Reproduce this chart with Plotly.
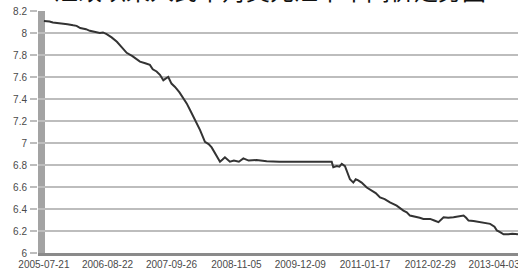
import plotly.graph_objects as go

title_text = "汇改以来人民币对美元汇率中间价走势图"

dates = [
    "2005-07-21", "2005-08-25", "2005-09-15", "2005-10-20", "2005-11-10", "2005-12-15",
    "2006-01-20", "2006-02-10", "2006-03-05", "2006-04-10", "2006-05-04", "2006-05-25",
    "2006-06-10", "2006-07-05", "2006-07-25", "2006-08-17", "2006-09-17", "2006-10-20",
    "2006-11-20", "2006-12-20", "2007-01-25", "2007-02-20", "2007-03-13", "2007-04-15",
    "2007-05-14", "2007-06-01", "2007-06-25", "2007-07-16", "2007-08-06", "2007-08-20",
    "2007-09-06", "2007-09-26", "2007-10-18", "2007-11-15", "2007-12-09", "2007-12-30",
    "2008-01-20", "2008-02-09", "2008-03-01", "2008-03-22", "2008-04-22", "2008-05-15",
    "2008-06-03", "2008-07-05", "2008-07-25", "2008-08-10", "2008-08-25", "2008-09-25",
    "2008-10-20", "2008-11-20", "2008-12-18", "2009-01-20", "2009-03-10", "2009-05-13",
    "2009-08-01", "2009-12-01", "2010-03-01", "2010-06-12", "2010-06-23", "2010-07-03",
    "2010-07-25", "2010-08-10", "2010-08-25", "2010-09-14", "2010-10-01", "2010-10-15",
    "2010-11-05", "2010-11-20", "2010-12-06", "2010-12-27", "2011-01-28", "2011-02-28",
    "2011-03-25", "2011-04-21", "2011-05-20", "2011-06-22", "2011-07-10", "2011-08-03",
    "2011-09-14", "2011-10-05", "2011-10-25", "2011-11-15", "2011-12-06", "2011-12-25",
    "2012-01-17", "2012-02-28", "2012-03-25", "2012-04-20", "2012-05-22", "2012-06-20",
    "2012-07-23", "2012-08-25", "2012-09-24", "2012-10-10", "2012-10-25", "2012-11-25",
    "2012-12-20", "2013-01-16", "2013-02-10", "2013-03-09", "2013-04-05", "2013-04-20",
    "2013-05-10", "2013-06-01", "2013-07-01", "2013-07-25", "2013-08-30",
]
rates = [
    8.11, 8.105, 8.095, 8.09, 8.085, 8.08,
    8.07, 8.065, 8.045, 8.035, 8.02, 8.015,
    8.01, 8.0, 8.005, 7.99, 7.96, 7.92,
    7.87, 7.82, 7.79, 7.765, 7.74, 7.725,
    7.71, 7.67, 7.65, 7.62, 7.57, 7.585,
    7.60, 7.54, 7.51, 7.46, 7.41, 7.36,
    7.30, 7.24, 7.19, 7.12, 7.01, 6.99,
    6.96, 6.88, 6.83, 6.85, 6.87, 6.83,
    6.84, 6.83, 6.86, 6.84, 6.845, 6.835,
    6.83, 6.83, 6.83, 6.83, 6.83, 6.78,
    6.79, 6.785, 6.81, 6.79, 6.73, 6.67,
    6.64, 6.67, 6.66, 6.64, 6.595, 6.565,
    6.545, 6.505, 6.49, 6.46, 6.45, 6.43,
    6.385, 6.37, 6.34, 6.335, 6.325, 6.32,
    6.31, 6.31, 6.295, 6.28, 6.325, 6.32,
    6.325, 6.33, 6.34, 6.32, 6.295, 6.29,
    6.285, 6.28, 6.275, 6.265, 6.24, 6.205,
    6.19, 6.17, 6.17, 6.175, 6.17,
]

x_tick_dates = ["2005-07-21", "2006-08-22", "2007-09-26", "2008-11-05",
                "2009-12-09", "2011-01-17", "2012-02-29", "2013-04-03"]
y_tick_vals = [6, 6.2, 6.4, 6.6, 6.8, 7, 7.2, 7.4, 7.6, 7.8, 8, 8.2]
y_tick_text = ["6", "6.2", "6.4", "6.6", "6.8", "7", "7.2", "7.4", "7.6", "7.8", "8", "8.2"]

W, H = 518, 274
fig = go.Figure()
fig.add_trace(go.Scatter(x=dates, y=rates, mode="lines",
                         line=dict(color="#333333", width=2), showlegend=False,
                         hoverinfo="skip"))

tick_font = dict(family="Liberation Sans, Arial", size=10, color="#4a4a4a")
fig.update_layout(
    width=W, height=H,
    margin=dict(l=0, r=0, t=11, b=21),
    paper_bgcolor="white", plot_bgcolor="white",
    xaxis=dict(domain=[38 / W, 1], type="date", automargin=False,
               range=["2005-06-14", "2013-08-30"],
               tickvals=x_tick_dates, ticktext=x_tick_dates,
               tickfont=tick_font, showgrid=False, ticks="",
               ticklabeloverflow="allow",
               showline=True, linecolor="#8a8a8a", linewidth=3,
               zeroline=False),
    yaxis=dict(range=[6, 8.2], tickvals=y_tick_vals, ticktext=y_tick_text,
               automargin=False,
               tickfont=tick_font, showgrid=True, gridcolor="#bdbdbd",
               gridwidth=1.6, ticks="outside", ticklen=7, tickcolor="#bdbdbd",
               tickwidth=1.6, zeroline=False, showline=False,
               ticklabelstandoff=1),
    shapes=[dict(type="rect", xref="paper", yref="y",
                 x0=38 / W, x1=45 / W, y0=6, y1=8.2,
                 fillcolor="#a3a3a3", line=dict(width=0), layer="below")],
    annotations=[dict(text=title_text, xref="paper", yref="paper",
                      x=270 / W, y=1.087, xanchor="center", yanchor="middle",
                      showarrow=False,
                      font=dict(family="Noto Sans CJK SC", size=24, color="#111111"))],
)
fig.write_html("out.html", config={"displayModeBar": False},
               post_script="document.body.style.margin='0px';document.body.style.overflow='hidden';")
